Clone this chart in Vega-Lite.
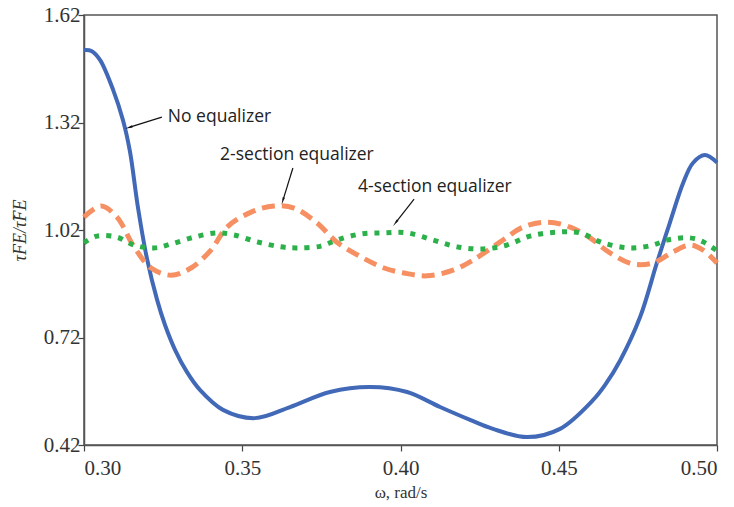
{
  "$schema": "https://vega.github.io/schema/vega-lite/v6.json",
  "width": 633,
  "height": 430,
  "autosize": "none",
  "padding": {"left": 84, "top": 15, "right": 17, "bottom": 62},
  "background": "white",
  "config": {
    "view": {"stroke": "#555555", "strokeWidth": 1.5},
    "axis": {"grid": false, "ticks": true, "tickOpacity": 1, "domainColor": "#555555", "domainWidth": 1.5, "tickColor": "#444444", "tickWidth": 1.2}
  },
  "datasets": {
    "none": [
      {"w": 0.3, "r": 1.522}, {"w": 0.3025, "r": 1.519}, {"w": 0.3051, "r": 1.494}, {"w": 0.3092, "r": 1.411},
      {"w": 0.3123, "r": 1.327}, {"w": 0.3145, "r": 1.24}, {"w": 0.3171, "r": 1.08}, {"w": 0.3199, "r": 0.94},
      {"w": 0.3231, "r": 0.825}, {"w": 0.3256, "r": 0.755}, {"w": 0.3288, "r": 0.685}, {"w": 0.3325, "r": 0.624},
      {"w": 0.3367, "r": 0.573}, {"w": 0.3439, "r": 0.518}, {"w": 0.354, "r": 0.495}, {"w": 0.3651, "r": 0.526},
      {"w": 0.3777, "r": 0.568}, {"w": 0.3904, "r": 0.582}, {"w": 0.4021, "r": 0.568}, {"w": 0.4125, "r": 0.526},
      {"w": 0.422, "r": 0.49}, {"w": 0.4292, "r": 0.465}, {"w": 0.44, "r": 0.442}, {"w": 0.4504, "r": 0.465},
      {"w": 0.4608, "r": 0.545}, {"w": 0.4646, "r": 0.587}, {"w": 0.4694, "r": 0.656}, {"w": 0.4757, "r": 0.777},
      {"w": 0.481, "r": 0.928}, {"w": 0.4851, "r": 1.04}, {"w": 0.4893, "r": 1.151}, {"w": 0.4924, "r": 1.207},
      {"w": 0.4962, "r": 1.229}, {"w": 0.5, "r": 1.208}
    ],
    "two": [
      {"w": 0.3, "r": 1.056}, {"w": 0.3054, "r": 1.087}, {"w": 0.3104, "r": 1.056}, {"w": 0.3158, "r": 0.973},
      {"w": 0.3212, "r": 0.914}, {"w": 0.3275, "r": 0.894}, {"w": 0.3338, "r": 0.914}, {"w": 0.3401, "r": 0.964},
      {"w": 0.3452, "r": 1.028}, {"w": 0.3528, "r": 1.07}, {"w": 0.36, "r": 1.087}, {"w": 0.3664, "r": 1.081},
      {"w": 0.3736, "r": 1.04}, {"w": 0.3799, "r": 0.986}, {"w": 0.3875, "r": 0.945}, {"w": 0.3948, "r": 0.914},
      {"w": 0.4011, "r": 0.9}, {"w": 0.4084, "r": 0.892}, {"w": 0.4166, "r": 0.908}, {"w": 0.4229, "r": 0.936},
      {"w": 0.4314, "r": 0.986}, {"w": 0.4387, "r": 1.028}, {"w": 0.4463, "r": 1.042}, {"w": 0.4536, "r": 1.028},
      {"w": 0.4599, "r": 0.998}, {"w": 0.4662, "r": 0.956}, {"w": 0.4735, "r": 0.925}, {"w": 0.4798, "r": 0.928},
      {"w": 0.4861, "r": 0.959}, {"w": 0.4915, "r": 0.978}, {"w": 0.4956, "r": 0.964}, {"w": 0.5, "r": 0.928}
    ],
    "four": [
      {"w": 0.3, "r": 0.984}, {"w": 0.3041, "r": 1.003}, {"w": 0.3104, "r": 1.0}, {"w": 0.3158, "r": 0.978},
      {"w": 0.3221, "r": 0.97}, {"w": 0.3275, "r": 0.981}, {"w": 0.3348, "r": 1.0}, {"w": 0.342, "r": 1.012},
      {"w": 0.3474, "r": 1.006}, {"w": 0.3547, "r": 0.987}, {"w": 0.3622, "r": 0.973}, {"w": 0.3673, "r": 0.97},
      {"w": 0.3749, "r": 0.975}, {"w": 0.3799, "r": 0.992}, {"w": 0.3875, "r": 1.009}, {"w": 0.3948, "r": 1.012},
      {"w": 0.4021, "r": 1.012}, {"w": 0.4103, "r": 0.992}, {"w": 0.4179, "r": 0.973}, {"w": 0.4261, "r": 0.967},
      {"w": 0.4336, "r": 0.978}, {"w": 0.4409, "r": 1.003}, {"w": 0.4494, "r": 1.014}, {"w": 0.4567, "r": 1.012},
      {"w": 0.464, "r": 0.984}, {"w": 0.4725, "r": 0.97}, {"w": 0.4798, "r": 0.978}, {"w": 0.4842, "r": 0.992},
      {"w": 0.4915, "r": 0.998}, {"w": 0.4956, "r": 0.987}, {"w": 0.5, "r": 0.962}
    ],
    "notes": [
      {"label": "No equalizer", "tx": 0.3265, "ty": 1.335, "ax": 0.3246, "ay": 1.335, "hx": 0.3145, "hy": 1.307, "angle": 252},
      {"label": "2-section equalizer", "tx": 0.343, "ty": 1.229, "ax": 0.366, "ay": 1.193, "hx": 0.3629, "hy": 1.104, "angle": 197},
      {"label": "4-section equalizer", "tx": 0.3866, "ty": 1.14, "ax": 0.4043, "ay": 1.106, "hx": 0.3986, "hy": 1.042, "angle": 218}
    ]
  },
  "layer": [
    {
      "data": {"name": "none"},
      "mark": {"type": "line", "color": "#4169B7", "strokeWidth": 4, "interpolate": "catmull-rom"},
      "encoding": {
        "x": {"field": "w", "type": "quantitative", "scale": {"domain": [0.3, 0.5], "nice": false, "zero": false},
          "axis": {"orient": "bottom", "values": [0.3, 0.35, 0.4, 0.45, 0.5], "format": ".2f", "ticks": true, "tickColor": "#444444", "tickWidth": 1.2, "tickSize": 6, "domain": true, "labelPadding": 6,
            "labelFont": "Liberation Serif", "labelFontSize": 21, "labelColor": "#333333",
            "title": "ω, rad/s", "titleFont": "Liberation Serif", "titleFontSize": 17, "titleFontWeight": "normal", "titleColor": "#333333", "titlePadding": 6}},
        "y": {"field": "r", "type": "quantitative", "scale": {"domain": [0.42, 1.62], "nice": false, "zero": false},
          "axis": {"orient": "left", "values": [0.42, 0.72, 1.02, 1.32, 1.62], "format": ".2f", "ticks": true, "tickColor": "#444444", "tickWidth": 1.2, "tickSize": 6, "domain": true, "labelPadding": -2,
            "labelFont": "Liberation Serif", "labelFontSize": 21, "labelColor": "#333333",
            "title": "τFE/τ̃FE", "titleFont": "Liberation Serif", "titleFontSize": 18, "titleFontStyle": "italic", "titleFontWeight": "normal", "titleColor": "#333333", "titlePadding": 14}}
      }
    },
    {
      "data": {"name": "two"},
      "mark": {"type": "line", "color": "#F68F62", "strokeWidth": 5, "strokeDash": [13, 7], "interpolate": "catmull-rom"},
      "encoding": {
        "x": {"field": "w", "type": "quantitative"},
        "y": {"field": "r", "type": "quantitative"}
      }
    },
    {
      "data": {"name": "four"},
      "mark": {"type": "line", "color": "#2BB04A", "strokeWidth": 5, "strokeDash": [5, 7], "interpolate": "catmull-rom"},
      "encoding": {
        "x": {"field": "w", "type": "quantitative"},
        "y": {"field": "r", "type": "quantitative"}
      }
    },
    {
      "data": {"name": "notes"},
      "mark": {"type": "rule", "color": "#111111", "strokeWidth": 1.2},
      "encoding": {
        "x": {"field": "ax", "type": "quantitative"},
        "y": {"field": "ay", "type": "quantitative"},
        "x2": {"field": "hx"},
        "y2": {"field": "hy"}
      }
    },
    {
      "data": {"name": "notes"},
      "mark": {"type": "point", "shape": "wedge", "filled": true, "color": "#111111", "size": 80, "opacity": 1},
      "encoding": {
        "x": {"field": "hx", "type": "quantitative"},
        "y": {"field": "hy", "type": "quantitative"},
        "angle": {"field": "angle", "type": "quantitative", "scale": null}
      }
    },
    {
      "data": {"name": "notes"},
      "mark": {"type": "text", "align": "left", "baseline": "middle", "font": "Open Sans", "fontSize": 17.5, "color": "#222222"},
      "encoding": {
        "x": {"field": "tx", "type": "quantitative"},
        "y": {"field": "ty", "type": "quantitative"},
        "text": {"field": "label"}
      }
    }
  ]
}
